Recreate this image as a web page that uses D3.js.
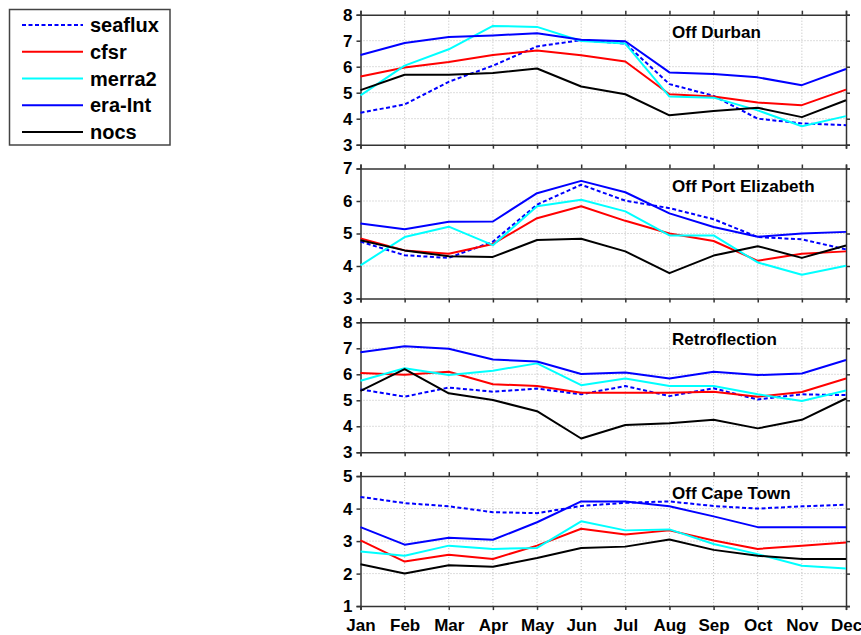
<!DOCTYPE html>
<html>
<head>
<meta charset="utf-8">
<script src="https://cdn.jsdelivr.net/npm/d3@7/dist/d3.min.js"></script>
<style>
body{margin:0;background:#fff;}
svg{display:block;font-family:"Liberation Sans",Arial,sans-serif;}
</style>
</head>
<body>
<svg id="chart" width="861" height="635"></svg>
<script>
const months = ["Jan","Feb","Mar","Apr","May","Jun","Jul","Aug","Sep","Oct","Nov","Dec"];
const seriesNames = ["seaflux","cfsr","merra2","era-Int","nocs"];
const seriesColors = ["#0000ff","#ff0000","#00ffff","#0000ff","#000000"];
const panelTitles = ["Off Durban","Off Port Elizabeth","Retroflection","Off Cape Town"];
const panelDomains = [[3,8],[3,7],[3,8],[1,5]];
const panelTicks = [[3,4,5,6,7,8],[3,4,5,6,7],[3,4,5,6,7,8],[1,2,3,4,5]];

// Off Durban
const durbanSeaflux = [4.23,4.55,5.42,6.04,6.78,7.02,6.89,5.33,4.88,4.00,3.82,3.75];
const durbanCfsr    = [5.62,5.97,6.18,6.45,6.62,6.44,6.20,4.94,4.85,4.62,4.52,5.12];
const durbanMerra2  = [4.90,6.04,6.67,7.57,7.53,6.99,6.89,4.85,4.81,4.32,3.71,4.10];
const durbanEra     = [6.45,6.91,7.14,7.20,7.29,7.04,6.98,5.78,5.72,5.59,5.29,5.91];
const durbanNocs    = [5.10,5.69,5.69,5.76,5.93,5.24,4.94,4.13,4.30,4.42,4.06,4.71];
// Off Port Elizabeth
const peSeaflux = [4.75,4.33,4.25,4.75,5.89,6.50,6.01,5.78,5.44,4.89,4.82,4.51];
const peCfsr    = [4.85,4.48,4.38,4.68,5.47,5.84,5.39,5.00,4.77,4.16,4.38,4.45];
const peMerra2  = [4.02,4.89,5.21,4.64,5.84,6.04,5.68,4.94,4.94,4.11,3.73,4.01];
const peEra     = [5.31,5.13,5.36,5.37,6.24,6.62,6.27,5.62,5.20,4.90,5.00,5.05];
const peNocs    = [4.79,4.48,4.30,4.28,4.80,4.84,4.45,3.78,4.32,4.61,4.25,4.63];
// Retroflection
const retSeaflux = [5.42,5.14,5.49,5.33,5.45,5.23,5.55,5.16,5.46,5.03,5.23,5.20];
const retCfsr    = [6.05,5.98,6.10,5.62,5.55,5.29,5.29,5.29,5.33,5.14,5.32,5.84];
const retMerra2  = [5.75,6.23,5.97,6.14,6.42,5.58,5.84,5.55,5.55,5.23,4.97,5.38];
const retEra     = [6.85,7.08,6.98,6.57,6.49,6.01,6.07,5.84,6.10,5.97,6.03,6.55];
const retNocs    = [5.36,6.20,5.27,5.01,4.58,3.53,4.05,4.12,4.25,3.92,4.25,5.07];
// Off Cape Town
const capeSeaflux = [4.36,4.17,4.07,3.89,3.86,4.08,4.18,4.22,4.08,4.00,4.07,4.12];
const capeCfsr    = [3.02,2.37,2.58,2.45,2.86,3.38,3.20,3.33,3.02,2.76,2.86,2.96];
const capeMerra2  = [2.68,2.55,2.86,2.76,2.79,3.61,3.33,3.36,2.91,2.60,2.24,2.16];
const capeEra     = [3.43,2.89,3.10,3.04,3.58,4.22,4.22,4.07,3.76,3.43,3.43,3.43];
const capeNocs    = [2.29,2.00,2.26,2.21,2.48,2.79,2.83,3.05,2.73,2.55,2.45,2.45];

const panels = [
  [durbanSeaflux,durbanCfsr,durbanMerra2,durbanEra,durbanNocs],
  [peSeaflux,peCfsr,peMerra2,peEra,peNocs],
  [retSeaflux,retCfsr,retMerra2,retEra,retNocs],
  [capeSeaflux,capeCfsr,capeMerra2,capeEra,capeNocs]
];

const svg = d3.select("#chart");
const left = 360.5, right = 846;
const panelTop0 = 14.7, panelStep = 153.8, panelH = 130;
const x = d3.scalePoint().domain(months).range([left, right]);
const frameColor = "#333";

panels.forEach((data, p) => {
  const top = panelTop0 + p * panelStep;
  const bottom = top + panelH;
  const y = d3.scaleLinear().domain(panelDomains[p]).range([bottom, top]);
  const g = svg.append("g");

  // grid
  g.append("g").selectAll("line").data(panelTicks[p].slice(1, -1)).join("line")
    .attr("x1", left).attr("x2", right)
    .attr("y1", d => y(d)).attr("y2", d => y(d))
    .attr("stroke", "#bbb").attr("stroke-width", 1).attr("stroke-dasharray", "1,2");
  g.append("g").selectAll("line").data(months.slice(1, -1)).join("line")
    .attr("x1", d => x(d)).attr("x2", d => x(d))
    .attr("y1", top).attr("y2", bottom)
    .attr("stroke", "#bbb").attr("stroke-width", 1).attr("stroke-dasharray", "1,2");

  // axes
  const yl = g.append("g").attr("transform", `translate(${left},0)`)
    .call(d3.axisLeft(y).tickValues(panelTicks[p]).tickSize(4).tickPadding(4).tickFormat(d3.format("d")));
  const yr = g.append("g").attr("transform", `translate(${right},0)`)
    .call(d3.axisRight(y).tickValues(panelTicks[p]).tickSize(4).tickFormat(""));
  const xt = g.append("g").attr("transform", `translate(0,${top})`)
    .call(d3.axisTop(x).tickSize(4).tickFormat(""));
  const xb = g.append("g").attr("transform", `translate(0,${bottom})`)
    .call(d3.axisBottom(x).tickSize(4).tickPadding(9).tickFormat(p === 3 ? (d => d) : ""));
  [yl, yr, xt, xb].forEach(a => {
    a.selectAll(".domain").attr("stroke", frameColor).attr("stroke-width", 1.5);
    a.selectAll(".tick line").attr("stroke", frameColor).attr("stroke-width", 1.5);
    a.selectAll("text").attr("fill", "#000").attr("font-size", 17).attr("font-weight", "bold")
      .attr("font-family", "'Liberation Sans', Arial, sans-serif");
  });

  // lines
  const line = d3.line().x((d, i) => x(months[i])).y(d => y(d));
  data.forEach((vals, s) => {
    g.append("path").datum(vals)
      .attr("d", line)
      .attr("fill", "none")
      .attr("stroke", seriesColors[s])
      .attr("stroke-width", 2)
      .attr("stroke-linejoin", "round")
      .attr("stroke-dasharray", s === 0 ? "4,2.5" : null);
  });

  g.append("text").attr("x", 672).attr("y", top + 23)
    .attr("font-size", 17).attr("font-weight", "bold").attr("fill", "#000")
    .text(panelTitles[p]);
});

// legend
const lg = svg.append("g");
lg.append("rect").attr("x", 9.5).attr("y", 9.5).attr("width", 160.5).attr("height", 135.5)
  .attr("fill", "#fff").attr("stroke", "#444").attr("stroke-width", 1.5);
const ly = d3.scalePoint().domain(seriesNames).range([25, 132]);
seriesNames.forEach((n, i) => {
  lg.append("line").attr("x1", 22).attr("x2", 83).attr("y1", ly(n)).attr("y2", ly(n))
    .attr("stroke", seriesColors[i]).attr("stroke-width", 2)
    .attr("stroke-dasharray", i === 0 ? "4,2.5" : null);
  lg.append("text").attr("x", 90).attr("y", ly(n)).attr("dy", "0.35em")
    .attr("font-size", 20).attr("font-weight", "bold").attr("fill", "#000").text(n);
});
</script>
</body>
</html>
